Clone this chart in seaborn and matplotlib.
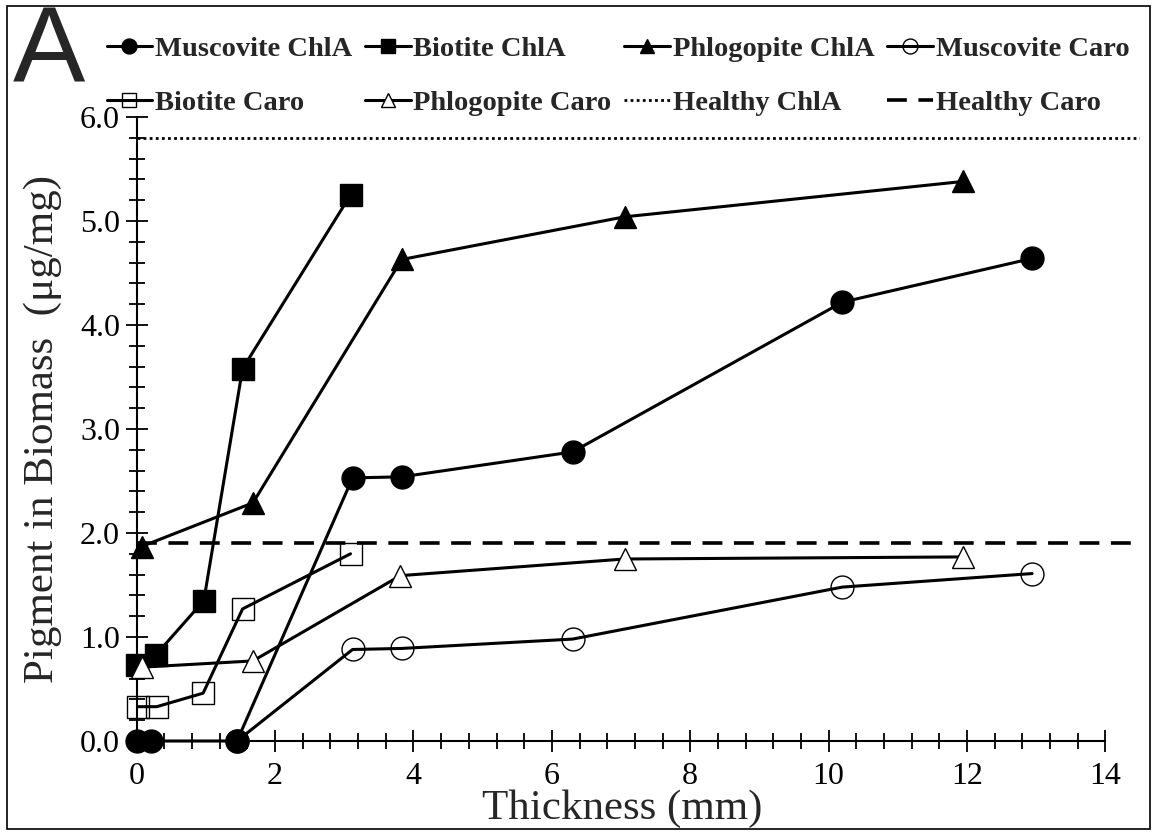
import numpy as np
import pandas as pd
import matplotlib
matplotlib.use("Agg")
import matplotlib.pyplot as plt
from matplotlib.ticker import FixedLocator
from matplotlib.patches import Rectangle
import seaborn as sns

# ---- data ----
musc_chla_x = [0, 0.2, 1.45, 3.12, 3.83, 6.3, 10.2, 12.94]
musc_chla_y = [0, 0, 0, 2.53, 2.54, 2.78, 4.22, 4.64]
biot_chla_x = [0, 0.28, 0.97, 1.53, 3.09]
biot_chla_y = [0.73, 0.83, 1.35, 3.58, 5.25]
phlo_chla_x = [0.07, 1.68, 3.83, 7.05, 11.94]
phlo_chla_y = [1.87, 2.29, 4.63, 5.04, 5.38]
musc_caro_x = [1.45, 3.12, 3.83, 6.3, 10.2, 12.94]
musc_caro_y = [0, 0.88, 0.89, 0.98, 1.48, 1.61]
biot_caro_x = [0.02, 0.29, 0.96, 1.53, 3.09]
biot_caro_y = [0.33, 0.33, 0.46, 1.27, 1.80]
phlo_caro_x = [0.08, 1.68, 3.81, 7.05, 11.94]
phlo_caro_y = [0.71, 0.77, 1.59, 1.75, 1.77]
healthy_chla = 5.8
healthy_caro = 1.9

x_ticks = [0, 2, 4, 6, 8, 10, 12, 14]
y_ticks = [0, 1, 2, 3, 4, 5, 6]
x_label = "Thickness (mm)"
y_label = "Pigment in Biomass  (\u03bcg/mg)"

sns.set_theme(style="white")
plt.rcParams["font.family"] = ["Liberation Serif", "DejaVu Serif"]

W, H = 1155, 833
fig = plt.figure(figsize=(W / 100, H / 100), dpi=100)
x0_px, x_right_px = 136.7, 1140
y0_px, y_top_px = 741, 117
ax = fig.add_axes([x0_px / W, (H - y0_px) / H, (x_right_px - x0_px) / W, (y0_px - y_top_px) / H])

LW = 2.2
series = [
    ("Muscovite ChlA", musc_chla_x, musc_chla_y, dict(marker="o", ms=16.5, mfc="black", mec="black", mew=1.0), 5),
    ("Biotite ChlA", biot_chla_x, biot_chla_y, dict(marker="s", ms=16, mfc="black", mec="black", mew=1.0), 3),
    ("Phlogopite ChlA", phlo_chla_x, phlo_chla_y, dict(marker="^", ms=16, mfc="black", mec="black", mew=1.0), 3),
    ("Muscovite Caro", musc_caro_x, musc_caro_y, dict(marker="o", ms=16.5, mfc="none", mec="black", mew=1.0), 4),
    ("Biotite Caro", biot_caro_x, biot_caro_y, dict(marker="s", ms=16, mfc="none", mec="black", mew=1.0), 3),
    ("Phlogopite Caro", phlo_caro_x, phlo_caro_y, dict(marker="^", ms=16.5, mfc="white", mec="black", mew=1.0), 4),
]

for name, xs, ys, mk, z in series:
    df = pd.DataFrame({"x": xs, "y": ys})
    sns.lineplot(data=df, x="x", y="y", ax=ax, color="black", lw=LW, label=name,
                 estimator=None, sort=False, clip_on=False, zorder=z,
                 marker=mk["marker"], markersize=mk["ms"], markerfacecolor=mk["mfc"],
                 markeredgecolor=mk["mec"], markeredgewidth=mk["mew"])

ax.axhline(healthy_chla, color="black", lw=2.0, ls=(0, (1, 1.2)), label="Healthy ChlA", zorder=2)
ax.axhline(healthy_caro, color="black", lw=2.6, ls=(0, (5.5, 3.2)), label="Healthy Caro", zorder=2)

ax.set_xlim(0, 14.5)
ax.set_ylim(0, 6)
for s in ["top", "right"]:
    ax.spines[s].set_visible(False)
for s in ["left", "bottom"]:
    ax.spines[s].set_color("black")
    ax.spines[s].set_linewidth(1.5)
    ax.spines[s].set_zorder(1)
ax.spines["bottom"].set_bounds(0, 14)

ax.set_xticks(x_ticks)
ax.set_xticklabels([str(v) for v in x_ticks])
ax.set_yticks(y_ticks)
ax.set_yticklabels([f"{v:.1f}" for v in y_ticks])
ax.xaxis.set_minor_locator(FixedLocator(np.arange(0, 14.01, 0.4)))
ax.yaxis.set_minor_locator(FixedLocator(np.arange(0, 6.01, 0.2)))
ax.tick_params(which="major", direction="inout", length=16, width=1.3, colors="black",
               labelsize=23, bottom=True, left=True)
ax.tick_params(which="minor", direction="inout", length=11, width=1.3, colors="black",
               bottom=True, left=True)
ax.tick_params(axis="y", which="major", pad=4)
ax.tick_params(axis="x", which="major", pad=7)
ax.grid(False)

ax.set_xlabel(x_label, fontsize=31)
ax.xaxis.set_label_coords((622 - x0_px) / (x_right_px - x0_px), -0.078)
ax.set_ylabel(y_label, fontsize=31)
ax.yaxis.set_label_coords(-0.0745, 0.5)

handles, labels = ax.get_legend_handles_labels()
if ax.get_legend() is not None:
    ax.get_legend().remove()
order = [0, 4, 1, 5, 2, 6, 3, 7]
leg = fig.legend([handles[i] for i in order], [labels[i] for i in order],
                 loc="center", bbox_to_anchor=(0.535, 0.909), ncol=4, frameon=False,
                 prop={"family": "Liberation Serif", "weight": "bold", "size": 20.5},
                 handlelength=1.6, handletextpad=0.1, columnspacing=0.45,
                 labelspacing=1.0, markerscale=0.65)

fig.text(13 / W, 1 - 54 / H, "A", fontsize=78, family="Liberation Sans", va="center", ha="left")
fig.patches.append(Rectangle((7 / W, 4 / H), (W - 12) / W, (H - 10) / H, transform=fig.transFigure,
                             fill=False, edgecolor="black", lw=1.2))

fig.savefig("out.png", dpi=100)
